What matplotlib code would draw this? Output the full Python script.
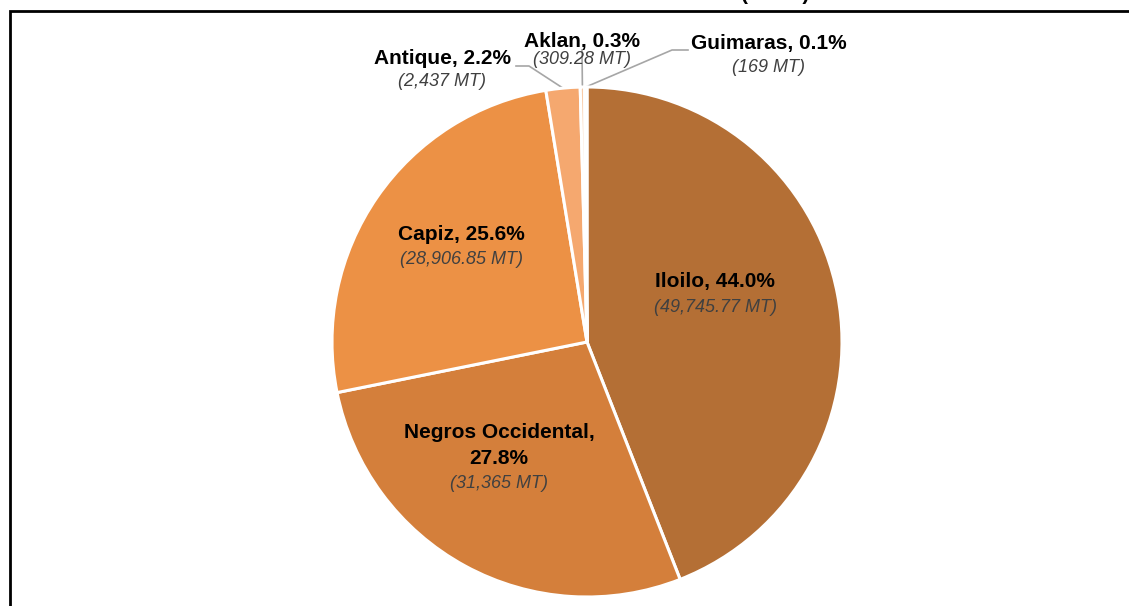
import numpy as np
import matplotlib
matplotlib.use("Agg")
import matplotlib.pyplot as plt
from matplotlib.patches import Rectangle

plt.rcParams["font.family"] = ["Liberation Sans", "DejaVu Sans"]

# data
provinces = ["Iloilo", "Negros Occidental", "Capiz", "Antique", "Aklan", "Guimaras"]
volume_mt = [49745.77, 31365, 28906.85, 2437, 309.28, 169]
volume_text = ["49,745.77", "31,365", "28,906.85", "2,437", "309.28", "169"]
pct_text = ["44.0%", "27.8%", "25.6%", "2.2%", "0.3%", "0.1%"]
colors = ["#B46F35", "#D47F3B", "#EC9145", "#F5A86F", "#F8CBA8", "#FBE2CF"]

W, H = 1129, 606
fig = plt.figure(figsize=(W / 100, H / 100), dpi=100)
ax = fig.add_axes([0, 0, 1, 1])


def py(y):
    # pixel row (from top) -> data y
    return H - y


cx, cy, r = 587, py(342), 255
wedges, _ = ax.pie(
    volume_mt,
    colors=colors,
    startangle=90,
    counterclock=False,
    center=(cx, cy),
    radius=r,
    wedgeprops=dict(edgecolor="white", linewidth=2.2),
    frame=True,
)
ax.set_xlim(0, W)
ax.set_ylim(0, H)
ax.axis("off")

# label layout: (bold lines, centre x, bold y, italic y) in pixels
layout = {
    "Iloilo": (["Iloilo, 44.0%"], 715, [281], 307),
    "Negros Occidental": (["Negros Occidental,", "27.8%"], 499, [433, 458], 483),
    "Capiz": (["Capiz, 25.6%"], 461, [235], 259),
    "Antique": (["Antique, 2.2%"], 442, [59], 81),
    "Aklan": (["Aklan, 0.3%"], 582, [41], 60),
    "Guimaras": (["Guimaras, 0.1%"], 769, [44], 67),
}

for name, vol in zip(provinces, volume_text):
    lines, x, ys, yi = layout[name]
    for line, yb in zip(lines, ys):
        ax.text(x, py(yb), line, ha="center", va="center", fontsize=15,
                fontweight="bold", color="black")
    ax.text(x, py(yi), f"({vol} MT)", ha="center", va="center", fontsize=13,
            style="italic", color="#404040")

# leader lines for the small slices
leader_start = {
    "Antique": [(516, 66), (529, 66)],
    "Aklan": [(582, 50)],
    "Guimaras": [(688, 50), (672, 50)],
}
for w, name in zip(wedges, provinces):
    if name not in leader_start:
        continue
    mid = np.deg2rad((w.theta1 + w.theta2) / 2)
    ex, ey = cx + r * np.cos(mid), cy + r * np.sin(mid)
    pts = [(x, py(y)) for x, y in leader_start[name]] + [(ex, ey)]
    xs, ys = zip(*pts)
    ax.plot(xs, ys, color="#A6A6A6", linewidth=1.2, zorder=0.5)

# cropped title remnant (only the bottom of the brackets shows) and frame
ax.text(809, py(-0.5), "(in MT)", ha="right", va="baseline", fontsize=15,
        fontweight="bold", color="black")
ax.add_patch(Rectangle((10, -20), W + 20, py(10.5) + 20, fill=False,
                       edgecolor="black", linewidth=2, clip_on=False))

fig.savefig("out.png", dpi=100, facecolor="white")
